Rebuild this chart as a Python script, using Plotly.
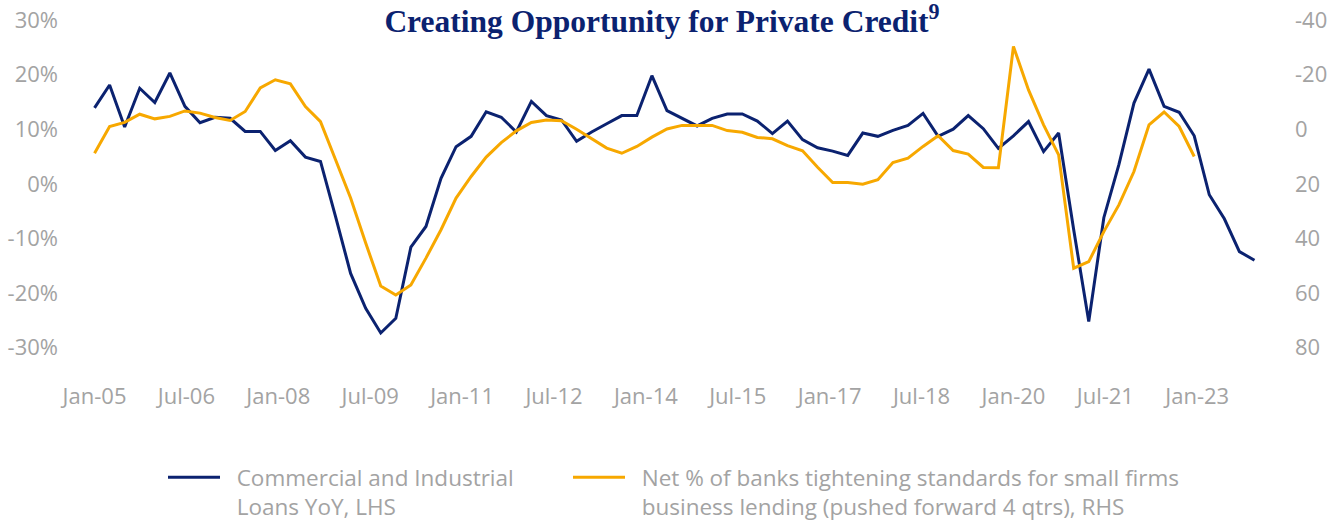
import plotly.graph_objects as go

# ---- data ----
quarters = [f"{m}-{y:02d}" for y in range(5, 25) for m in ("Jan", "Apr", "Jul", "Oct")][:78]

ci_loans_yoy = [
    13.9, 18.1, 10.4, 17.5, 14.9, 20.3, 14.2, 11.2, 12.2, 12.0,
    9.6, 9.6, 6.1, 7.9, 4.9, 4.1, -6.0, -16.4, -22.8, -27.3,
    -24.6, -11.6, -7.8, 1.0, 6.8, 8.7, 13.2, 12.2, 9.5, 15.1,
    12.5, 11.7, 7.8, 9.5, 11.0, 12.5, 12.5, 19.8, 13.4, 12.0,
    10.6, 12.0, 12.8, 12.8, 11.5, 9.2, 11.5, 8.1, 6.6, 6.0,
    5.2, 9.3, 8.7, 9.8, 10.7, 12.9, 8.7, 10.0, 12.5, 10.1,
    6.5, 8.8, 11.4, 5.9, 9.3, -8.4, -25.2, -6.2, 3.5, 14.8,
    21.0, 14.2, 13.1, 8.8, -2.0, -6.4, -12.4, -14.0,
]

tightening_fwd4q = [
    8.8, -1.0, -2.5, -5.5, -3.8, -4.7, -6.7, -5.9, -4.3, -3.2,
    -6.5, -15.1, -18.1, -16.6, -8.3, -2.8, 11.2, 25.2, 41.7, 57.4,
    60.7, 57.0, 47.2, 36.8, 25.2, 17.3, 10.2, 4.9, 0.6, -2.5,
    -3.4, -3.1, 0.0, 3.3, 6.9, 8.8, 6.3, 2.9, -0.1, -1.4,
    -1.4, -1.4, 0.5, 1.1, 3.0, 3.5, 6.0, 7.9, 13.9, 19.5,
    19.5, 20.1, 18.5, 12.2, 10.6, 6.3, 2.4, 7.8, 9.1, 14.0,
    14.1, -30.3, -14.4, -1.6, 9.4, 50.9, 48.5, 37.5, 27.7, 15.5,
    -1.6, -6.3, -1.0, 10.0,
]

x_tick_labels = ["Jan-05", "Jul-06", "Jan-08", "Jul-09", "Jan-11", "Jul-12", "Jan-14",
                 "Jul-15", "Jan-17", "Jul-18", "Jan-20", "Jul-21", "Jan-23"]
left_tick_values = [30, 20, 10, 0, -10, -20, -30]
left_tick_labels = ["30%", "20%", "10%", "0%", "-10%", "-20%", "-30%"]
right_tick_values = [-40, -20, 0, 20, 40, 60, 80]
right_tick_labels = ["-40", "-20", "0", "20", "40", "60", "80"]

series_names = [
    ["Commercial and Industrial", "Loans YoY, LHS"],
    ["Net % of banks tightening standards for small firms",
     "business lending (pushed forward 4 qtrs), RHS"],
]

# ---- styling ----
NAVY = "#0B2270"
GOLD = "#F7A800"
GREY = "#A3A3A3"
FONT = "Open Sans"
TICK_SIZE = 22
label_step = 6.1  # spacing of the date labels, in quarters, as in the reference
PAD = "\u00a0\u00a0"  # gap between legend line and its text


def legend_text(lines):
    return "<br>".join(PAD + s for s in lines)


fig = go.Figure()
fig.add_trace(go.Scatter(
    x=list(range(len(ci_loans_yoy))), y=ci_loans_yoy, name=legend_text(series_names[0]),
    mode="lines", line=dict(color=NAVY, width=3), yaxis="y", legend="legend",
    customdata=quarters[:len(ci_loans_yoy)], hovertemplate="%{customdata}: %{y}%<extra></extra>",
))
fig.add_trace(go.Scatter(
    x=list(range(len(tightening_fwd4q))), y=tightening_fwd4q, name=legend_text(series_names[1]),
    mode="lines", line=dict(color=GOLD, width=3), yaxis="y2", legend="legend2",
    customdata=quarters[:len(tightening_fwd4q)], hovertemplate="%{customdata}: %{y}<extra></extra>",
))

legend_common = dict(
    orientation="h", xref="container", yref="container",
    xanchor="left", yanchor="top",
    font=dict(family=FONT, size=22.5, color=GREY),
    itemwidth=52, valign="top", bgcolor="rgba(0,0,0,0)", borderwidth=0,
)

fig.update_layout(
    width=1339, height=521,
    margin=dict(l=87, r=77, t=20, b=146, autoexpand=False),
    paper_bgcolor="white", plot_bgcolor="white",
    font=dict(family=FONT, size=TICK_SIZE, color=GREY),
    title=dict(
        text="Creating Opportunity for Private Credit<sup>9</sup>",
        font=dict(family="Liberation Serif", size=31.5, color=NAVY, weight="bold"),
        xref="container", yref="container", x=662 / 1339, y=1 - 21 / 521,
        xanchor="center", yanchor="middle", automargin=False,
    ),
    xaxis=dict(
        range=[-0.5, 77.5], showgrid=False, zeroline=False, showline=False,
        tickvals=[i * label_step for i in range(len(x_tick_labels))],
        ticktext=x_tick_labels, ticks="", ticklabelstandoff=6, automargin=False,
        tickfont=dict(family=FONT, size=TICK_SIZE, color=GREY),
    ),
    yaxis=dict(
        range=[-35, 30], showgrid=False, zeroline=False, showline=False,
        tickvals=left_tick_values, ticktext=left_tick_labels, ticks="", automargin=False,
        ticklabelstandoff=28, tickfont=dict(family=FONT, size=TICK_SIZE, color=GREY),
    ),
    yaxis2=dict(
        range=[90, -40], overlaying="y", side="right", showgrid=False,
        zeroline=False, showline=False, automargin=False,
        tickvals=right_tick_values, ticktext=right_tick_labels, ticks="",
        ticklabelstandoff=32, tickfont=dict(family=FONT, size=TICK_SIZE, color=GREY),
    ),
    showlegend=True,
    legend=dict(x=163 / 1339, y=1 - 456 / 521, **legend_common),
    legend2=dict(x=568 / 1339, y=1 - 456 / 521, **legend_common),
)

fig.write_html("out.html")
